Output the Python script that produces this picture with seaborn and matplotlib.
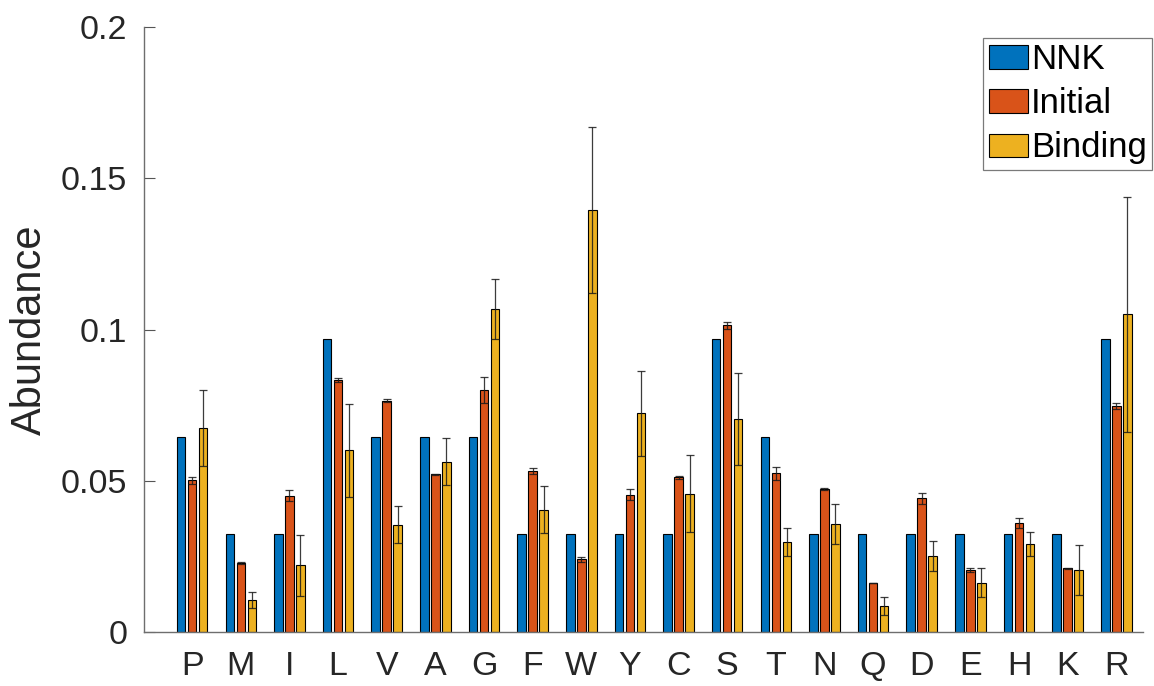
import numpy as np
import pandas as pd
import seaborn as sns
import matplotlib
matplotlib.use("Agg")
import matplotlib.pyplot as plt
from matplotlib.ticker import FuncFormatter

# Amino-acid abundances per library
residues = ["P", "M", "I", "L", "V", "A", "G", "F", "W", "Y",
            "C", "S", "T", "N", "Q", "D", "E", "H", "K", "R"]
sources = ["NNK", "Initial", "Binding"]

nnk = [0.0645, 0.0323, 0.0323, 0.0968, 0.0645, 0.0645, 0.0645, 0.0323, 0.0323, 0.0323,
       0.0323, 0.0968, 0.0645, 0.0323, 0.0323, 0.0323, 0.0323, 0.0323, 0.0323, 0.0968]
initial = [0.0501, 0.0228, 0.0451, 0.0832, 0.0765, 0.0522, 0.0800, 0.0533, 0.0240, 0.0454,
           0.0511, 0.1014, 0.0525, 0.0474, 0.0162, 0.0442, 0.0204, 0.0361, 0.0210, 0.0747]
initial_err = [0.0013, 0.0003, 0.0019, 0.0007, 0.0005, 0.0002, 0.0043, 0.0010, 0.0009, 0.0019,
               0.0006, 0.0012, 0.0022, 0.0003, 0.0001, 0.0019, 0.0006, 0.0017, 0.0002, 0.0011]
binding = [0.0675, 0.0106, 0.0220, 0.0601, 0.0355, 0.0563, 0.1069, 0.0405, 0.1395, 0.0723,
           0.0457, 0.0704, 0.0298, 0.0358, 0.0086, 0.0252, 0.0163, 0.0291, 0.0204, 0.1050]
binding_err = [0.0125, 0.0027, 0.0102, 0.0154, 0.0060, 0.0077, 0.0099, 0.0079, 0.0273, 0.0141,
               0.0127, 0.0151, 0.0046, 0.0066, 0.0030, 0.0049, 0.0048, 0.0041, 0.0083, 0.0388]

colors = ["#0072BD", "#D95319", "#EDB120"]
ytick_values = [0, 0.05, 0.1, 0.15, 0.2]

df = pd.DataFrame({
    "residue": residues * 3,
    "source": np.repeat(sources, len(residues)),
    "value": nnk + initial + binding,
})

sns.set_theme(style="white")
plt.rcParams["font.family"] = ["Liberation Sans", "DejaVu Sans"]

fig = plt.figure(figsize=(11.54, 6.86), dpi=100)
ax = fig.add_axes([0.1248, 0.0787, 0.8657, 0.8819])

sns.barplot(data=df, x="residue", y="value", hue="source", order=residues,
            hue_order=sources, palette=colors, saturation=1, width=0.678, gap=0.22,
            edgecolor="black", linewidth=0.8, errorbar=None, ax=ax)

# Error bars centred on the Initial and Binding bars
for container, vals, errs in zip(ax.containers[1:], [initial, binding],
                                 [initial_err, binding_err]):
    xs = [p.get_x() + p.get_width() / 2 for p in container.patches]
    ax.errorbar(xs, vals, yerr=errs, fmt="none", ecolor="#1a1a1a",
                elinewidth=0.9, capsize=3.2, capthick=0.9, alpha=0.85, zorder=5)

ax.set_xlim(-0.99, 19.55)
ax.set_ylim(0, 0.2)
ax.set_yticks(ytick_values)
ax.yaxis.set_major_formatter(FuncFormatter(lambda v, _: f"{v:g}"))
ax.set_xlabel("")
ax.set_ylabel("Abundance", fontsize=30, color="#262626", labelpad=8)

ax.tick_params(axis="y", direction="in", length=8, width=0.8, color="#555555",
               labelsize=24.5, labelcolor="#262626", pad=12, left=True)
ax.tick_params(axis="x", length=0, labelsize=24.5, labelcolor="#262626", pad=14)

for side in ["top", "right"]:
    ax.spines[side].set_visible(False)
for side in ["left", "bottom"]:
    ax.spines[side].set_color("#6e6e6e")
    ax.spines[side].set_linewidth(1.0)

handles, labels = ax.get_legend_handles_labels()
leg = ax.legend(handles, labels, loc="upper right",
                bbox_to_anchor=(1152 / 1154, 1 - 38 / 686), bbox_transform=fig.transFigure,
                borderaxespad=0, fontsize=25, handlelength=1.13, handleheight=0.66,
                handletextpad=0.09, labelspacing=0.32, borderpad=0.15,
                frameon=True, fancybox=False, edgecolor="#7a7a7a", framealpha=1)
leg.get_frame().set_linewidth(0.9)
for t in leg.get_texts():
    t.set_color("black")

fig.savefig("out.png", dpi=100)
